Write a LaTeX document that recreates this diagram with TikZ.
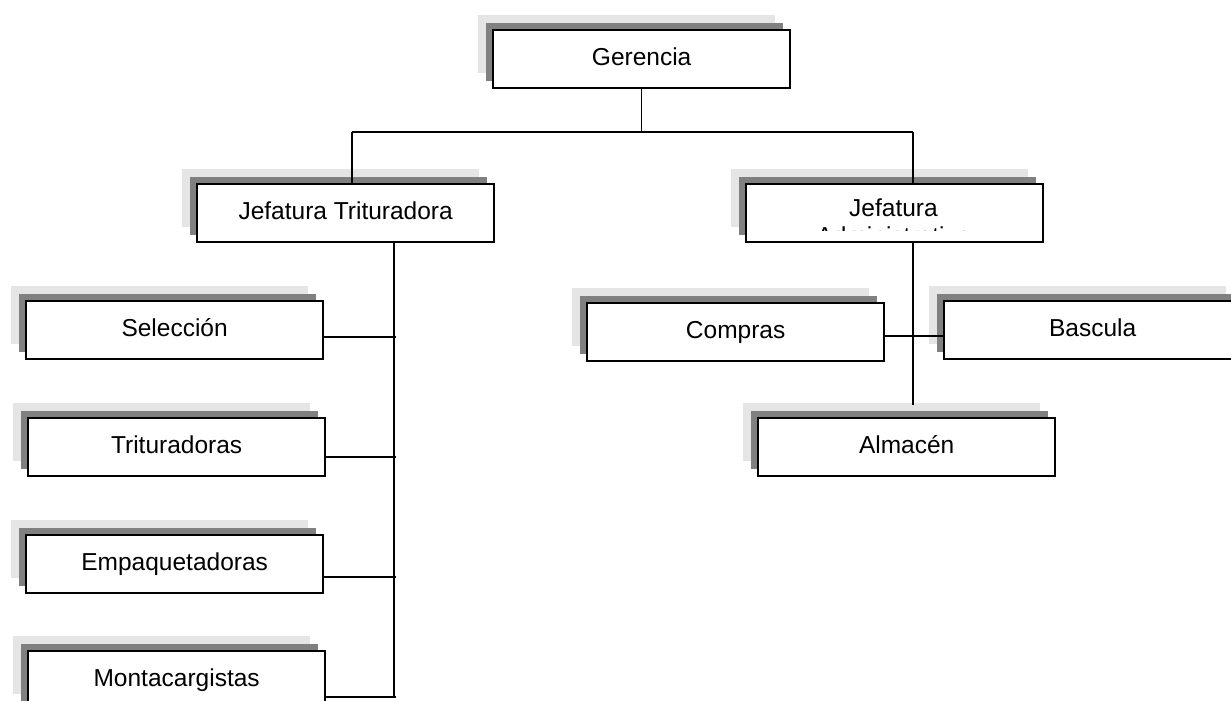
\documentclass[tikz,border=0pt]{standalone}
\usepackage{fontspec}
\setmainfont{Liberation Sans}
\usetikzlibrary{shadows}
\definecolor{shadowlight}{HTML}{E5E5E5}
\definecolor{shadowdark}{HTML}{808080}
\begin{document}
\begin{tikzpicture}[x=1pt,y=-1pt,
  unitbox/.style={draw=black, line width=2.3pt, fill=white,
    minimum width=297pt, minimum height=58pt, inner sep=0pt,
    anchor=north west, font=\fontsize{24.5}{28.5}\selectfont,
    text height=17.5pt, text depth=5pt,
    general shadow={fill=shadowlight, draw=none, shadow xshift=-15pt, shadow yshift=15pt},
    general shadow={fill=shadowdark, draw=none, shadow xshift=-7pt, shadow yshift=7pt}},
  link/.style={draw=black, line width=1.5pt}]
\useasboundingbox (0,0) rectangle (1231,701);
\clip (0,0) rectangle (1231,701);

% units
\node[unitbox] (ger) at (492,29) {Gerencia};
\node[unitbox] (jtrit) at (196,183) {Jefatura Trituradora};
\node[unitbox] (jadm) at (745,183) {};
\begin{scope}
  % the second line of this title is cut off by the box's text area
  \clip (750,186) rectangle (1038,230.5);
  \node[align=center, font=\fontsize{24.5}{28}\selectfont, anchor=north, inner sep=0pt]
    (jadmtext) at (893.5,198.5) {Jefatura\\Administrativa};
\end{scope}
\node[unitbox] (selec) at (25,300) {Selección};
\node[unitbox] (trit) at (27,417) {Trituradoras};
\node[unitbox] (empaq) at (25,534) {Empaquetadoras};
\node[unitbox] (monta) at (27,650) {Montacargistas};
\node[unitbox] (compras) at (586,302) {Compras};
\node[unitbox] (bascula) at (943,300) {Bascula};
\node[unitbox] (almacen) at (757,417) {Almacén};

% junction points
\coordinate (busL) at (352,132);
\coordinate (busR) at (913,132);
\coordinate (spineEnd) at (394,697);
\coordinate (jS) at (396,337);
\coordinate (jT) at (396,457);
\coordinate (jE) at (396,577);
\coordinate (jM) at (396,697);
\coordinate (admEnd) at (913,405);
\coordinate (jC) at (913,336);

% connectors
\draw[link] (ger.south) -- (ger.south |- busL);
\draw[link] (busL) -- (busR);
\draw[link] (busL) -- (busL |- jtrit.north);
\draw[link] (busR) -- (busR |- jadm.north);
\draw[link] (jtrit.south -| spineEnd) -- (spineEnd);
\draw[link] (selec.east |- jS) -- (jS);
\draw[link] (trit.east |- jT) -- (jT);
\draw[link] (empaq.east |- jE) -- (jE);
\draw[link] (monta.east |- jM) -- (jM);
\draw[link] (jadm.south -| admEnd) -- (admEnd);
\draw[link] (compras.east |- jC) -- (bascula.west |- jC);
\end{tikzpicture}
\end{document}
